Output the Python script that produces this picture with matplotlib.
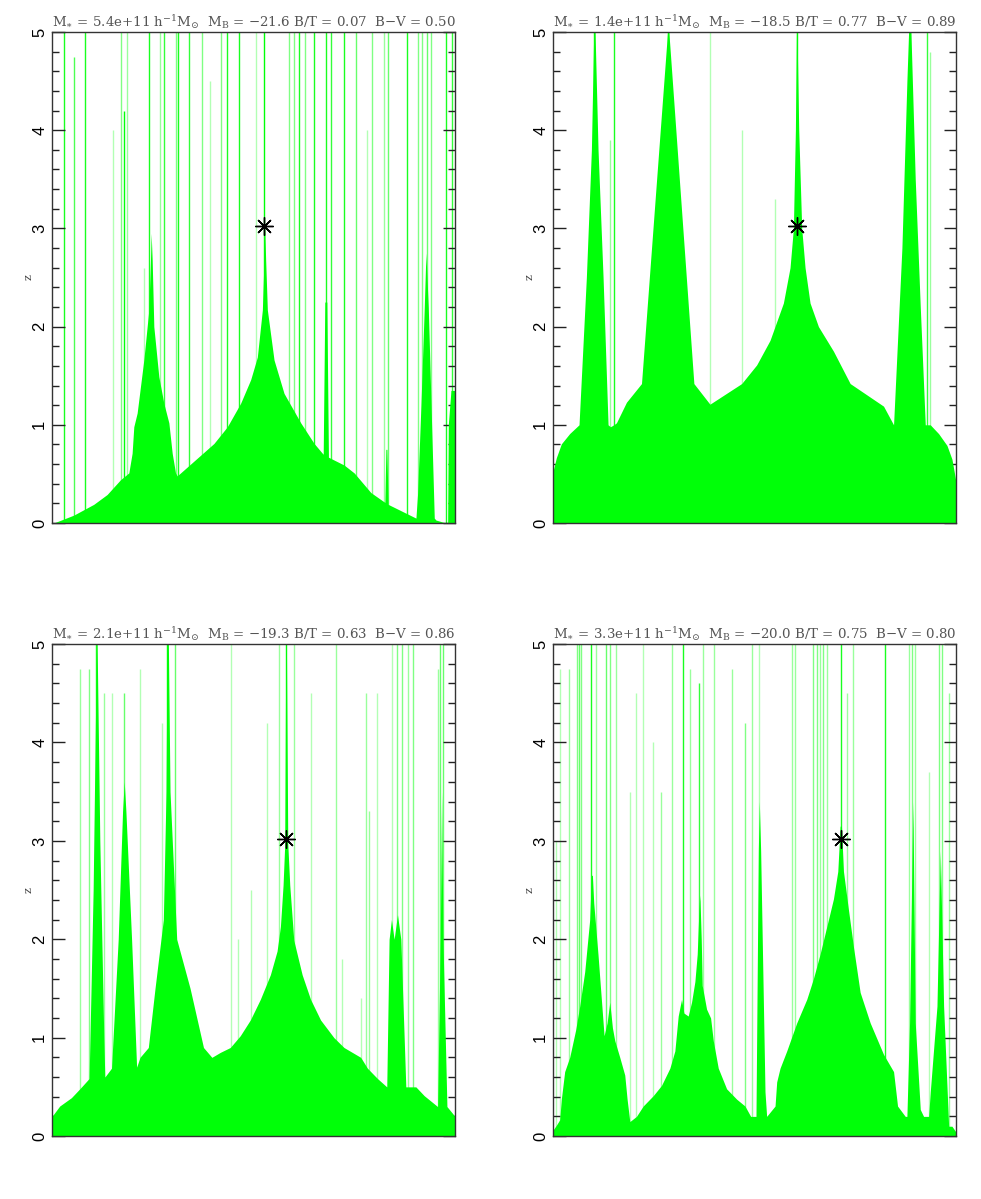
import matplotlib
matplotlib.use("Agg")
import matplotlib.pyplot as plt

plt.rcParams['mathtext.fontset'] = 'dejavuserif'

# ---- panel captions
mstar = ['5.4e+11', '1.4e+11', '2.1e+11', '3.3e+11']
mag_b = ['21.6', '18.5', '19.3', '20.0']
b_t = ['0.07', '0.77', '0.63', '0.75']
b_v = ['0.50', '0.89', '0.86', '0.80']

# ---- main progenitor marker (tree position, z)
star_x = [52.69, 60.48, 58.09, 71.42]
star_z = [3.02, 3.02, 3.02, 3.02]

# ---- envelope of merged branches: tree position (0-100) and redshift
env1_x = [0.0, 0.41, 5.39, 10.36, 13.67, 16.98, 19.06, 19.88, 20.30, 21.13, 22.78, 24.03, 24.44,
          24.61, 24.86, 25.27, 26.51, 27.75, 29.0, 29.83, 30.65, 31.07, 31.90, 36.87, 40.18,
          43.50, 46.81, 49.30, 50.95, 52.20, 52.61, 52.77, 53.02, 53.44, 55.10, 57.58, 61.72,
          65.04, 67.3, 67.7, 68.2, 68.6, 72.49, 74.98, 79.12, 82.6, 82.85, 83.1, 83.4, 90.31,
          90.72, 91.55, 92.38, 92.79, 93.37, 94.20, 94.86, 95.28, 97.76, 98.18, 98.34, 99.0, 100]
env1_z = [0.0, 0.0, 0.08, 0.19, 0.29, 0.44, 0.51, 0.71, 0.98, 1.12, 1.66, 2.17, 2.68,
          2.95, 2.68, 2.0, 1.49, 1.22, 1.02, 0.71, 0.51, 0.48, 0.51, 0.69, 0.81,
          0.98, 1.22, 1.46, 1.69, 2.17, 2.68, 3.05, 2.68, 2.17, 1.66, 1.32, 1.02,
          0.81, 0.70, 2.25, 2.25, 0.67, 0.59, 0.51, 0.31, 0.21, 0.75, 0.75, 0.19, 0.05,
          0.3, 1.2, 2.2, 2.75, 2.2, 1.0, 0.05, 0.03, 0.0, 0.0, 1.0, 1.35, 1.35]

env2_x = [0.0, 0.83, 2.07, 4.14, 6.46, 8.28, 9.53, 10.11, 10.44, 11.18, 12.43, 13.67, 14.25,
          15.08, 15.74, 18.23, 21.96, 28.42, 28.75, 34.96, 38.94, 46.81, 50.54, 53.85, 57.17,
          58.82, 59.65, 60.15, 60.40, 60.56, 60.98, 61.72, 62.55, 63.79, 65.87, 69.59, 73.74,
          82.02, 84.51, 86.58, 87.82, 88.24, 88.82, 89.89, 91.14, 92.38, 93.62, 95.69, 97.76,
          99.0, 100]
env2_z = [0.525, 0.665, 0.806, 0.911, 1.0, 2.5, 3.8, 5.0, 5.0, 3.8, 2.5, 1.0, 0.98,
          1.0, 1.02, 1.23, 1.42, 5.0, 5.0, 1.42, 1.21, 1.42, 1.61, 1.86, 2.24,
          2.6, 3.0, 4.0, 5.0, 5.0, 4.0, 3.0, 2.6, 2.24, 2.0, 1.75, 1.42,
          1.19, 1.0, 2.8, 4.5, 5.0, 5.0, 3.5, 2.2, 1.0, 1.0, 0.91, 0.79,
          0.65, 0.42]

env3_x = [0.0, 1.91, 4.81, 6.89, 9.21, 10.21, 10.87, 11.04, 11.20, 11.87, 12.86, 13.11, 14.77,
          16.43, 17.51, 17.93, 18.34, 19.75, 21.0, 21.83, 23.90, 25.56, 27.63, 28.30, 28.55,
          28.88, 29.29, 30.95, 34.27, 35.93, 37.59, 39.67, 41.74, 44.23, 46.72, 49.21, 51.70,
          54.19, 55.85, 56.68, 57.34, 57.76, 58.01, 58.17, 58.51, 59.0, 60.0, 62.07, 64.15,
          66.64, 69.96, 72.45, 76.60, 78.26, 80.75, 83.07, 83.65, 84.23, 84.90, 85.73, 86.56,
          87.39, 87.8, 90.29, 92.37, 95.68, 96.35, 96.68, 97.01, 98.0, 100]
env3_z = [0.2, 0.305, 0.39, 0.48, 0.585, 2.5, 4.5, 5.0, 5.0, 3.0, 1.0, 0.6, 0.69,
          2.0, 3.3, 3.6, 3.3, 2.0, 0.7, 0.8, 0.9, 1.5, 2.2, 3.5, 5.0,
          5.0, 3.5, 2.0, 1.5, 1.2, 0.9, 0.8, 0.85, 0.9, 1.02, 1.18, 1.39,
          1.64, 1.88, 2.13, 2.55, 2.97, 5.0, 5.0, 2.97, 2.55, 1.99, 1.64, 1.39,
          1.18, 1.0, 0.9, 0.8, 0.69, 0.585, 0.5, 2.0, 2.2, 2.0, 2.25, 2.0,
          1.0, 0.5, 0.5, 0.41, 0.3, 2.0, 3.5, 2.0, 0.3, 0.2]

env4_x = [0.0, 0.83, 1.66, 2.07, 2.90, 4.14, 5.63, 6.63, 7.87, 9.11, 9.53, 9.78, 10.11, 11.18,
          12.68, 13.42, 14.09, 14.75, 15.33, 16.57, 17.81, 18.39, 19.06, 20.71, 22.37, 24.86,
          26.93, 29.0, 30.24, 31.07, 31.9, 32.48, 33.55, 34.38, 35.21, 35.79, 36.21, 36.45,
          36.79, 37.03, 38.11, 39.11, 39.77, 41.01, 43.08, 45.57, 47.64, 49.05, 50.37, 50.95,
          51.2, 51.53, 52.61, 53.02, 55.1, 55.51, 56.34, 58.0, 60.48, 62.97, 64.62, 66.28,
          67.94, 69.59, 70.67, 71.25, 71.58, 72.08, 73.32, 74.57, 76.22, 78.71, 82.02, 84.51,
          85.5, 87.41, 87.82, 88.48, 89.31, 89.89, 91.14, 91.96, 93.21, 93.62, 95.28, 96.11,
          96.93, 98.18, 99.0, 100]
env4_z = [0.06, 0.11, 0.165, 0.375, 0.655, 0.8, 1.08, 1.32, 1.67, 2.2, 2.65, 2.65, 2.37, 1.84,
          1.02, 1.15, 1.36, 1.1, 0.97, 0.8, 0.62, 0.375, 0.147, 0.2, 0.305, 0.41,
          0.515, 0.69, 0.865, 1.22, 1.39, 1.25, 1.22, 1.36, 1.57, 1.85, 2.3, 2.45,
          2.0, 1.53, 1.29, 1.2, 0.97, 0.69, 0.48, 0.375, 0.305, 0.2, 0.2, 2.9,
          3.4, 2.9, 0.45, 0.2, 0.305, 0.55, 0.69, 0.865, 1.15, 1.39, 1.6, 1.85,
          2.13, 2.41, 2.69, 3.15, 3.15, 2.69, 2.3, 1.92, 1.46, 1.15, 0.83, 0.655,
          0.305, 0.2, 0.2, 1.15, 3.4, 1.15, 0.27, 0.2, 0.2, 0.45, 1.32, 2.9,
          1.32, 0.1, 0.1, 0.04]

# ---- thin branches: tree position, top redshift, strength
br1_x = [2.90, 5.55, 8.29, 15.16, 17.15, 17.98, 18.64, 22.95, 24.03, 26.76, 27.75, 30.65, 31.32,
         33.97, 37.12, 39.11, 41.84, 43.5, 46.4, 50.54, 52.69, 58.82, 60.07, 61.31, 62.72,
         65.04, 67.94, 69.18, 72.49, 75.39, 78.29, 79.45, 82.44, 83.26, 88.07, 90.72, 91.80,
         93.0, 94.03, 97.76, 99.17]
br1_top = [5, 4.75, 5, 4.0, 5, 4.2, 5, 2.6, 5, 5, 5, 5, 5,
           5, 5, 4.5, 5, 5, 5, 5, 5, 5, 5, 5, 5,
           5, 5, 5, 5, 5, 4.0, 5, 5, 5, 5, 5, 5,
           5, 5, 5, 5]
br1_a = [0.9, 0.7, 0.9, 0.3, 0.5, 1.0, 0.4, 0.3, 0.9, 0.4, 0.8, 0.5, 0.9,
         0.8, 0.5, 0.3, 0.5, 0.9, 0.9, 0.3, 1.0, 0.5, 0.5, 0.9, 0.5,
         0.9, 0.9, 0.8, 0.9, 0.6, 0.3, 0.5, 0.4, 0.6, 0.9, 0.5, 0.5,
         0.6, 0.5, 0.9, 0.8]

br2_x = [10.3, 14.25, 15.08, 28.6, 38.94, 46.98, 55.1, 60.48, 88.57, 92.79, 93.45]
br2_top = [5, 3.9, 5, 5, 5, 4.0, 3.3, 5, 5, 5, 4.8]
br2_a = [1.0, 0.4, 0.9, 1.0, 0.3, 0.3, 0.3, 1.0, 0.4, 0.8, 0.4]

br3_x = [7.05, 9.21, 11.04, 12.95, 14.77, 17.93, 21.83, 27.22, 28.46, 30.54, 44.4, 46.06, 49.38,
         53.36, 56.35, 58.09, 60.0, 64.32, 70.37, 72.03, 76.6, 77.84, 78.67, 80.75, 84.48,
         85.73, 86.97, 88.22, 89.46, 95.68, 96.35, 96.93]
br3_top = [4.75, 4.75, 5, 4.5, 4.5, 4.5, 4.75, 4.2, 5, 5, 5, 2.0, 2.5,
           4.2, 5, 5, 5, 4.5, 5, 1.8, 1.4, 4.5, 3.3, 4.5, 5,
           5, 5, 5, 5, 4.75, 5, 5]
br3_a = [0.4, 0.5, 0.9, 0.4, 0.3, 0.6, 0.3, 0.3, 1.0, 0.6, 0.3, 0.3, 0.3,
         0.3, 0.4, 1.0, 0.4, 0.3, 0.4, 0.3, 0.3, 0.4, 0.4, 0.3, 0.3,
         0.5, 0.5, 0.4, 0.5, 0.4, 0.6, 0.6]

br4_x = [0.83, 1.82, 3.98, 5.97, 6.46, 7.04, 9.53, 10.77, 13.09, 14.09, 15.74, 19.06, 20.71,
         22.37, 24.86, 26.68, 29.41, 32.31, 33.97, 36.29, 37.28, 39.93, 44.32, 47.64, 49.46,
         51.2, 59.24, 60.07, 64.46, 65.45, 66.28, 67.11, 67.94, 71.42, 72.91, 74.4, 82.44,
         88.24, 89.06, 89.89, 93.21, 95.69, 96.52, 98.18]
br4_top = [3.0, 4.75, 4.75, 5, 5, 5, 5, 5, 5, 5, 5, 3.5, 4.5,
           5, 4.0, 3.5, 5, 5, 4.75, 4.6, 5, 5, 4.75, 4.2, 5,
           5, 5, 5, 5, 5, 5, 5, 5, 5, 4.5, 5, 5,
           5, 5, 5, 3.7, 5, 5, 4.5]
br4_a = [0.3, 0.3, 0.4, 0.5, 0.6, 0.5, 0.9, 0.4, 0.6, 0.5, 0.4, 0.3, 0.3,
         0.3, 0.3, 0.4, 0.4, 0.9, 0.4, 0.8, 0.4, 0.4, 0.4, 0.5, 0.4,
         0.3, 0.4, 0.4, 0.5, 0.5, 0.4, 0.5, 0.4, 0.9, 0.4, 0.4, 0.9,
         0.4, 0.5, 0.4, 0.3, 0.5, 0.5, 0.4]

env_x = [env1_x, env2_x, env3_x, env4_x]
env_z = [env1_z, env2_z, env3_z, env4_z]
br_x = [br1_x, br2_x, br3_x, br4_x]
br_top = [br1_top, br2_top, br3_top, br4_top]
br_a = [br1_a, br2_a, br3_a, br4_a]

green = '#00ff08'

fig = plt.figure(figsize=(9.81, 11.99), dpi=100)
boxes = [[0.0530, 0.5638, 0.4108, 0.4095],
         [0.5637, 0.5638, 0.4108, 0.4095],
         [0.0530, 0.0525, 0.4108, 0.4103],
         [0.5637, 0.0525, 0.4108, 0.4103]]

for i in range(4):
    ax = fig.add_axes(boxes[i])
    for x, top, a in zip(br_x[i], br_top[i], br_a[i]):
        ax.vlines(x, 0, top, color=green, alpha=a, linewidth=1.0, zorder=1)
    ax.fill_between(env_x[i], 0, env_z[i], color=green, linewidth=0, zorder=2)
    ax.plot(star_x[i], star_z[i], marker=(8, 2, 0), color='black', markersize=13,
            markeredgewidth=1.0, zorder=5, linestyle='none')

    ax.set_xlim(0, 100)
    ax.set_ylim(0, 5)
    ax.set_xticks([])
    ax.set_yticks([0, 1, 2, 3, 4, 5])
    ax.set_yticks([j * 0.2 for j in range(26)], minor=True)
    ax.tick_params(axis='y', which='both', direction='in', left=True, right=True, width=1.0,
                   color='#222222')
    ax.tick_params(axis='y', which='major', length=9)
    ax.tick_params(axis='y', which='minor', length=5)
    for lab in ax.get_yticklabels():
        lab.set_rotation(90)
        lab.set_va('center')
        lab.set_family('Liberation Sans')
        lab.set_fontsize(12)
    for sp in ax.spines.values():
        sp.set_color('#333333')
        sp.set_linewidth(1.0)
    ax.set_ylabel('z', family='DejaVu Serif', fontsize=8, color='#444444', labelpad=-1)

    title = (r'M$_{\ast}$ = ' + mstar[i] + r' h$^{-1}$M$_{\odot}$  M$_{\rm B}$ = $-$' + mag_b[i]
             + ' B/T = ' + b_t[i] + r'  B$-$V = ' + b_v[i])
    ax.set_title(title, family='DejaVu Serif', fontsize=9.6, color='#555555', pad=4)

fig.savefig('out.png', dpi=100)
